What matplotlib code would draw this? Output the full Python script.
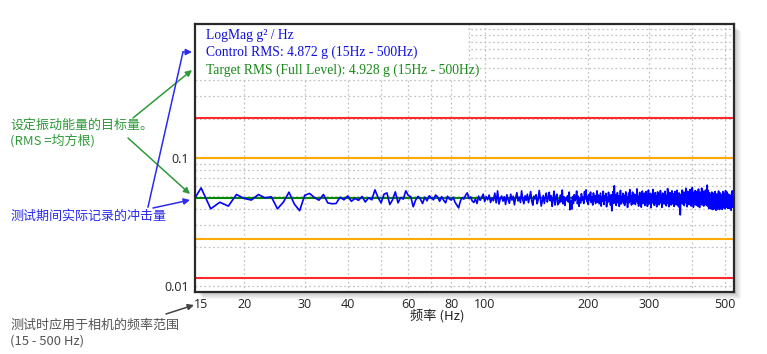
import numpy as np
import matplotlib
matplotlib.use("Agg")
import matplotlib.pyplot as plt
from matplotlib.patches import Rectangle, FancyArrowPatch
from matplotlib.lines import Line2D
from matplotlib.ticker import FixedLocator, FixedFormatter, NullLocator

# Levels (g^2/Hz)
target_level = 0.0487
alarm_hi, alarm_lo = 0.1, 0.0233      # orange lines
abort_hi, abort_lo = 0.203, 0.0116    # red lines

# Control PSD (g^2/Hz), one value per 1 Hz starting at 14 Hz
control = [
    0.0430, 0.0582, 0.0400, 0.0450, 0.0420, 0.0517, 0.0482, 0.0468, 0.0517, 0.0487, 0.0496, 0.0400, 0.0450, 0.0539, 0.0435, 0.0387, 0.0510, 0.0527, 0.0490, 0.0467,
    0.0517, 0.0445, 0.0438, 0.0440, 0.0492, 0.0470, 0.0503, 0.0458, 0.0482, 0.0466, 0.0499, 0.0452, 0.0488, 0.0470, 0.0562, 0.0490, 0.0445, 0.0520, 0.0532, 0.0432,
    0.0470, 0.0542, 0.0445, 0.0490, 0.0476, 0.0552, 0.0508, 0.0496, 0.0415, 0.0468, 0.0500, 0.0478, 0.0440, 0.0493, 0.0462, 0.0505, 0.0486, 0.0470, 0.0512, 0.0494,
    0.0458, 0.0497, 0.0466, 0.0445, 0.0501, 0.0476, 0.0468, 0.0492, 0.0450, 0.0428, 0.0407, 0.0460, 0.0488, 0.0476, 0.0510, 0.0532, 0.0481, 0.0495, 0.0460, 0.0448,
    0.0478, 0.0440, 0.0502, 0.0466, 0.0489, 0.0520, 0.0455, 0.0497, 0.0470, 0.0512, 0.0448, 0.0486, 0.0462, 0.0530, 0.0445, 0.0552, 0.0436, 0.0480, 0.0503, 0.0459,
    0.0497, 0.0432, 0.0515, 0.0470, 0.0441, 0.0520, 0.0468, 0.0501, 0.0430, 0.0488, 0.0535, 0.0460, 0.0494, 0.0448, 0.0552, 0.0472, 0.0438, 0.0505, 0.0466, 0.0520,
    0.0446, 0.0490, 0.0545, 0.0460, 0.0427, 0.0502, 0.0478, 0.0515, 0.0438, 0.0470, 0.0556, 0.0489, 0.0420, 0.0463, 0.0508, 0.0440, 0.0491, 0.0530, 0.0452, 0.0486,
    0.0538, 0.0462, 0.0505, 0.0418, 0.0475, 0.0549, 0.0428, 0.0490, 0.0520, 0.0430, 0.0468, 0.0445, 0.0512, 0.0455, 0.0560, 0.0437, 0.0496, 0.0425, 0.0483, 0.0470,
    0.0505, 0.0452, 0.0540, 0.0393, 0.0465, 0.0398, 0.0497, 0.0440, 0.0515, 0.0462, 0.0488, 0.0550, 0.0438, 0.0502, 0.0418, 0.0476, 0.0445, 0.0525, 0.0468, 0.0492,
    0.0440, 0.0545, 0.0478, 0.0562, 0.0455, 0.0500, 0.0432, 0.0518, 0.0470, 0.0540, 0.0448, 0.0495, 0.0428, 0.0532, 0.0461, 0.0507, 0.0440, 0.0486, 0.0552, 0.0450,
    0.0512, 0.0437, 0.0478, 0.0530, 0.0420, 0.0495, 0.0458, 0.0548, 0.0432, 0.0506, 0.0470, 0.0527, 0.0415, 0.0490, 0.0450, 0.0538, 0.0462, 0.0500, 0.0428, 0.0515,
    0.0386, 0.0470, 0.0545, 0.0440, 0.0604, 0.0458, 0.0510, 0.0425, 0.0492, 0.0535, 0.0447, 0.0505, 0.0418, 0.0480, 0.0556, 0.0436, 0.0498, 0.0462, 0.0528, 0.0441,
    0.0510, 0.0425, 0.0488, 0.0542, 0.0450, 0.0497, 0.0410, 0.0475, 0.0530, 0.0446, 0.0564, 0.0460, 0.0503, 0.0428, 0.0492, 0.0540, 0.0438, 0.0482, 0.0520, 0.0455,
    0.0432, 0.0515, 0.0470, 0.0572, 0.0446, 0.0500, 0.0420, 0.0486, 0.0537, 0.0452, 0.0498, 0.0412, 0.0475, 0.0550, 0.0440, 0.0508, 0.0462, 0.0530, 0.0425, 0.0490,
    0.0545, 0.0450, 0.0502, 0.0418, 0.0481, 0.0560, 0.0437, 0.0495, 0.0455, 0.0528, 0.0408, 0.0472, 0.0518, 0.0444, 0.0566, 0.0460, 0.0497, 0.0426, 0.0488, 0.0535,
    0.0440, 0.0506, 0.0415, 0.0478, 0.0542, 0.0456, 0.0493, 0.0430, 0.0520, 0.0465, 0.0555, 0.0445, 0.0500, 0.0410, 0.0484, 0.0530, 0.0448, 0.0512, 0.0436, 0.0496,
    0.0548, 0.0452, 0.0487, 0.0422, 0.0510, 0.0460, 0.0575, 0.0441, 0.0498, 0.0415, 0.0480, 0.0536, 0.0450, 0.0505, 0.0428, 0.0490, 0.0552, 0.0437, 0.0500, 0.0462,
    0.0525, 0.0418, 0.0482, 0.0545, 0.0445, 0.0503, 0.0430, 0.0490, 0.0558, 0.0448, 0.0512, 0.0420, 0.0476, 0.0532, 0.0408, 0.0470, 0.0359, 0.0455, 0.0520, 0.0442,
    0.0498, 0.0560, 0.0436, 0.0508, 0.0465, 0.0540, 0.0424, 0.0486, 0.0530, 0.0447, 0.0578, 0.0458, 0.0495, 0.0415, 0.0480, 0.0548, 0.0440, 0.0505, 0.0432, 0.0520,
    0.0450, 0.0566, 0.0438, 0.0497, 0.0420, 0.0512, 0.0460, 0.0585, 0.0445, 0.0502, 0.0412, 0.0476, 0.0540, 0.0433, 0.0493, 0.0555, 0.0450, 0.0518, 0.0426, 0.0488,
    0.0547, 0.0440, 0.0503, 0.0418, 0.0570, 0.0455, 0.0496, 0.0410, 0.0482, 0.0538, 0.0436, 0.0510, 0.0462, 0.0580, 0.0428, 0.0490, 0.0552, 0.0444, 0.0506, 0.0420,
    0.0487, 0.0542, 0.0432, 0.0500, 0.0560, 0.0446, 0.0515, 0.0425, 0.0530, 0.0612, 0.0452, 0.0560, 0.0415, 0.0492, 0.0402, 0.0470, 0.0535, 0.0408, 0.0478, 0.0420,
    0.0512, 0.0398, 0.0466, 0.0540, 0.0412, 0.0483, 0.0395, 0.0455, 0.0528, 0.0420, 0.0490, 0.0400, 0.0472, 0.0545, 0.0418, 0.0462, 0.0390, 0.0450, 0.0522, 0.0405,
    0.0470, 0.0398, 0.0505, 0.0430, 0.0550, 0.0410, 0.0468, 0.0395, 0.0487, 0.0532, 0.0415, 0.0460, 0.0402, 0.0518, 0.0440, 0.0480, 0.0396, 0.0456, 0.0545, 0.0422,
    0.0475, 0.0408, 0.0528, 0.0438, 0.0490, 0.0400, 0.0462, 0.0555, 0.0425, 0.0498, 0.0412, 0.0470, 0.0540, 0.0430, 0.0485, 0.0403, 0.0466, 0.0520, 0.0418, 0.0478,
    0.0405, 0.0512, 0.0436, 0.0488, 0.0400, 0.0460, 0.0390, 0.0475, 0.0535, 0.0428, 0.0552, 0.0445, 0.0500, 0.0410, 0.0470, 0.0440, 0.0462,
]
freq = np.arange(14, 14 + len(control))

x_labels = [15, 20, 30, 40, 60, 80, 100, 200, 300, 500]
x_grid = [20, 30, 40, 50, 60, 70, 80, 90, 100, 200, 300, 400, 500]
y_labels = [0.01, 0.1]
y_grid = [0.01, 0.02, 0.03, 0.04, 0.05, 0.06, 0.07, 0.08, 0.09,
          0.1, 0.2, 0.3, 0.4, 0.5, 0.6, 0.7, 0.8, 0.9, 1.0]

W, H = 767, 354
cjk = ["Noto Sans CJK SC", "DejaVu Sans"]


def fp(x, y):
    # pixel (from top-left) -> figure fraction
    return (x / W, 1 - y / H)


fig = plt.figure(figsize=(W / 100, H / 100), dpi=100)
ax_l, ax_r, ax_t, ax_b = 195.5, 734, 24, 292
ax = fig.add_axes([ax_l / W, 1 - ax_b / H, (ax_r - ax_l) / W, (ax_b - ax_t) / H])
ax.set_zorder(2)
ax.set_facecolor("white")

# soft drop shadow behind the plot box
for i in range(1, 8):
    fig.patches.append(Rectangle(fp(ax_l + i, ax_b + i), (ax_r - ax_l) / W, (ax_b - ax_t) / H,
                                 transform=fig.transFigure, facecolor="black",
                                 alpha=0.035, edgecolor="none", zorder=-1))

ax.set_xscale("log")
ax.set_yscale("log")
ax.set_xlim(14.45, 530)
ax.set_ylim(0.009, 1.1)

ax.xaxis.set_major_locator(FixedLocator(x_labels))
ax.xaxis.set_major_formatter(FixedFormatter([str(v) for v in x_labels]))
ax.xaxis.set_minor_locator(NullLocator())
ax.yaxis.set_major_locator(FixedLocator(y_labels))
ax.yaxis.set_major_formatter(FixedFormatter(["0.01", "0.1"]))
ax.yaxis.set_minor_locator(NullLocator())
ax.tick_params(which="both", length=0, labelsize=9, colors="#222222")
ax.tick_params(axis="x", pad=4)
ax.tick_params(axis="y", pad=5)
for lab in ax.get_xticklabels() + ax.get_yticklabels():
    lab.set_family("Open Sans")
for s in ax.spines.values():
    s.set_color("#2a2a2a")
    s.set_linewidth(1.6)

# dotted grid
grid_style = dict(color="#c4c4c4", linestyle=(0, (1.5, 2)), linewidth=0.9, zorder=0.5)
for gx in x_grid:
    ax.axvline(gx, **grid_style)
for gy in y_grid:
    ax.axhline(gy, **grid_style)

# white box behind the legend text
ax.add_patch(Rectangle((0, (ax_b - 78) / (ax_b - ax_t)), (468 - ax_l) / (ax_r - ax_l), 1,
                       transform=ax.transAxes, facecolor="white", edgecolor="none", zorder=1))

ax.axhline(abort_hi, color="#ff2a2a", lw=1.5, zorder=2)
ax.axhline(abort_lo, color="#ff2a2a", lw=1.5, zorder=2)
ax.axhline(alarm_hi, color="#ffaa00", lw=1.5, zorder=2)
ax.axhline(alarm_lo, color="#ffaa00", lw=1.5, zorder=2)
ax.axhline(target_level, color="#008a00", lw=1.5, zorder=3)
ax.plot(freq, control, color="#0000ff", lw=1.2, zorder=4)

serif = "Liberation Serif"
fig.text(*fp(206, 35), "LogMag g² / Hz", color="#1010e0", fontsize=9.8, family=serif, va="center", zorder=5)
fig.text(*fp(206, 52), "Control RMS: 4.872 g (15Hz - 500Hz)", color="#1010e0", fontsize=9.8, family=serif, va="center", zorder=5)
fig.text(*fp(206, 70), "Target RMS (Full Level): 4.928 g (15Hz - 500Hz)", color="#1a8a1a", fontsize=9.8, family=serif, va="center", zorder=5)

# x axis title
fig.text(*fp(437, 316), "频率 (Hz)", fontsize=9.5, family=cjk, ha="center", va="center", color="#222222")

# side notes
green = "#2f9a3a"
blue = "#2b2bf0"
grey = "#555555"
fig.text(*fp(10, 125), "设定振动能量的目标量。", color=green, fontsize=9.4, family=cjk, va="center")
fig.text(*fp(10, 141), "(RMS =均方根)", color=green, fontsize=9.4, family=cjk, va="center")
fig.text(*fp(10, 216), "测试期间实际记录的冲击量", color=blue, fontsize=9.4, family=cjk, va="center")
fig.text(*fp(10, 325), "测试时应用于相机的频率范围", color=grey, fontsize=9.4, family=cjk, va="center")
fig.text(*fp(10, 341), "(15 - 500 Hz)", color=grey, fontsize=9.4, family=cjk, va="center")

arr = dict(arrowstyle="-|>", lw=1.1, mutation_scale=9, shrinkA=0, shrinkB=0, zorder=6)
fig.add_artist(FancyArrowPatch(fp(133, 118), fp(192, 70), transform=fig.transFigure, color=green, **arr))
fig.add_artist(FancyArrowPatch(fp(128, 138), fp(190, 194), transform=fig.transFigure, color=green, **arr))
fig.add_artist(Line2D([148 / W, 183 / W], [1 - 207 / H, 1 - 52 / H],
                      transform=fig.transFigure, color=blue, lw=1.1, zorder=6))
fig.add_artist(FancyArrowPatch(fp(183, 52), fp(192, 52), transform=fig.transFigure, color=blue, **arr))
fig.add_artist(FancyArrowPatch(fp(153, 208), fp(190, 200), transform=fig.transFigure, color=blue, **arr))
fig.add_artist(FancyArrowPatch(fp(166, 314), fp(194, 305), transform=fig.transFigure, color="#444444", **arr))

fig.savefig("out.png", dpi=100)
